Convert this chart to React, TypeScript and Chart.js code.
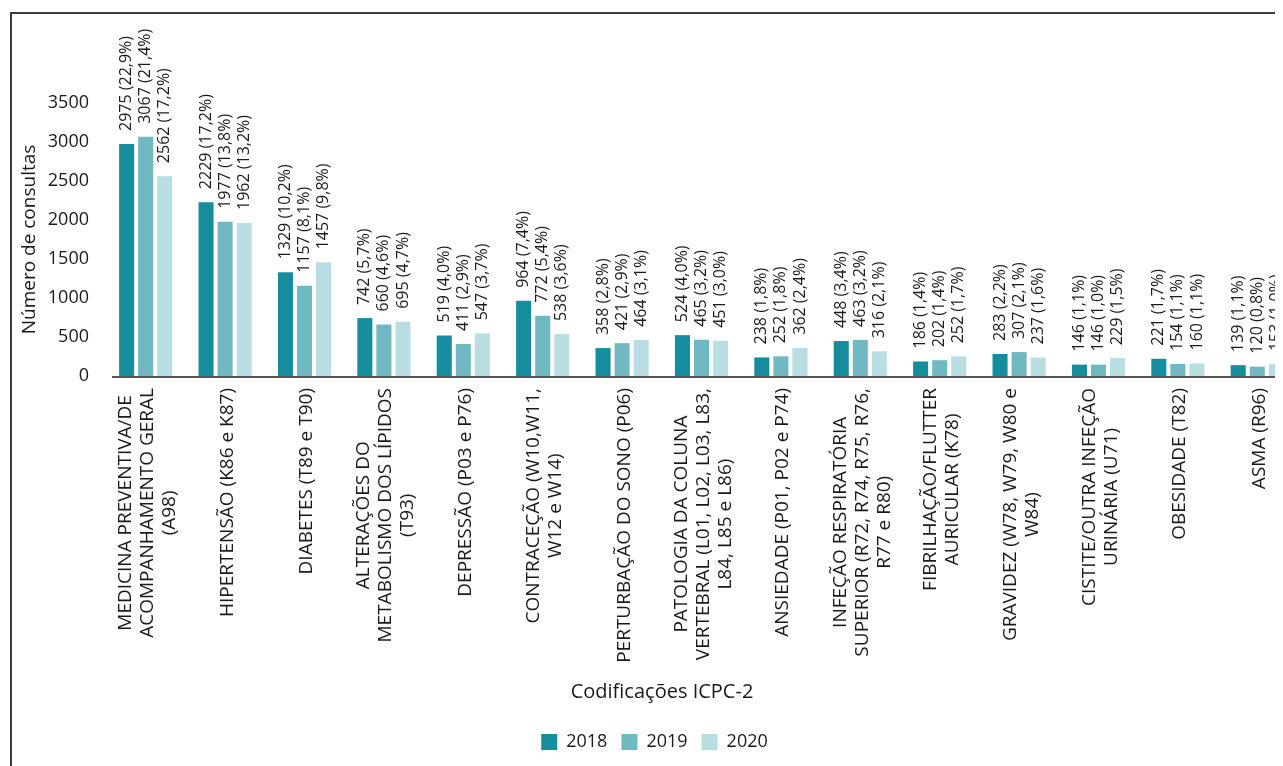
import React, { useEffect, useRef } from "react";
import { Chart, registerables } from "chart.js";

Chart.register(...registerables);

const categories: string[][] = [
  ["MEDICINA PREVENTIVA/DE", "ACOMPANHAMENTO GERAL", "(A98)"],
  ["HIPERTENSÃO (K86 e K87)"],
  ["DIABETES (T89 e T90)"],
  ["ALTERAÇÕES DO", "METABOLISMO DOS LÍPIDOS", "(T93)"],
  ["DEPRESSÃO (P03 e P76)"],
  ["CONTRACEÇÃO (W10,W11,", "W12 e W14)"],
  ["PERTURBAÇÃO DO SONO (P06)"],
  ["PATOLOGIA DA COLUNA", "VERTEBRAL (L01, L02, L03, L83,", "L84, L85 e L86)"],
  ["ANSIEDADE (P01, P02 e P74)"],
  ["INFEÇÃO RESPIRATÓRIA", "SUPERIOR (R72, R74, R75, R76,", "R77 e R80)"],
  ["FIBRILHAÇÃO/FLUTTER", "AURICULAR (K78)"],
  ["GRAVIDEZ (W78, W79, W80 e", "W84)"],
  ["CISTITE/OUTRA INFEÇÃO", "URINÁRIA (U71)"],
  ["OBESIDADE (T82)"],
  ["ASMA (R96)"],
];

const years = ["2018", "2019", "2020"];

const values2018 = [2975, 2229, 1329, 742, 519, 964, 358, 524, 238, 448, 186, 283, 146, 221, 139];
const values2019 = [3067, 1977, 1157, 660, 411, 772, 421, 465, 252, 463, 202, 307, 146, 154, 120];
const values2020 = [2562, 1962, 1457, 695, 547, 538, 464, 451, 362, 316, 252, 237, 229, 160, 153];

const pct2018 = ["22,9", "17,2", "10,2", "5,7", "4,0", "7,4", "2,8", "4,0", "1,8", "3,4", "1,4", "2,2", "1,1", "1,7", "1,1"];
const pct2019 = ["21,4", "13,8", "8,1", "4,6", "2,9", "5,4", "2,9", "3,2", "1,8", "3,2", "1,4", "2,1", "1,0", "1,1", "0,8"];
const pct2020 = ["17,2", "13,2", "9,8", "4,7", "3,7", "3,6", "3,1", "3,0", "2,4", "2,1", "1,7", "1,6", "1,5", "1,1", "1,0"];

const yTickValues = [0, 500, 1000, 1500, 2000, 2500, 3000, 3500];

const yTitle = "Número de consultas";
const xTitle = "Codificações ICPC-2";

const colors = ["#158d9d", "#70b9c3", "#b8dde3"];
const FONT = "'Open Sans', 'Noto Sans', sans-serif";
const TEXT = "#1a1a1a";

const pcts = [pct2018, pct2019, pct2020];

const decorPlugin = {
  id: "decor",
  afterDatasetsDraw(chart: any) {
    const ctx = chart.ctx as CanvasRenderingContext2D;
    const xs = chart.scales.x;
    const ys = chart.scales.y;
    const area = chart.chartArea;
    const y0 = ys.getPixelForValue(0);
    ctx.save();

    // x axis line
    ctx.strokeStyle = "#555555";
    ctx.lineWidth = 2;
    ctx.beginPath();
    ctx.moveTo(area.left + 6, y0 + 1);
    ctx.lineTo(chart.width, y0 + 1);
    ctx.stroke();

    // data labels
    ctx.fillStyle = TEXT;
    ctx.font = `16px ${FONT}`;
    ctx.textAlign = "left";
    ctx.textBaseline = "middle";
    chart.data.datasets.forEach((ds: any, di: number) => {
      const meta = chart.getDatasetMeta(di);
      meta.data.forEach((bar: any, i: number) => {
        const label = `${ds.data[i]} (${pcts[di][i]}%)`;
        ctx.save();
        ctx.translate(bar.x, bar.y - 13);
        ctx.rotate(-Math.PI / 2);
        ctx.fillText(label, 0, 0);
        ctx.restore();
      });
    });

    // category labels
    ctx.font = `19px ${FONT}`;
    ctx.textAlign = "center";
    ctx.textBaseline = "middle";
    const lineH = 22;
    categories.forEach((lines, i) => {
      const cx = xs.getPixelForTick(i);
      const maxW = Math.max(...lines.map((l) => ctx.measureText(l).width));
      ctx.save();
      ctx.translate(cx + 2, y0 + 12 + maxW / 2);
      ctx.rotate(-Math.PI / 2);
      lines.forEach((l, li) => {
        ctx.fillText(l, 0, (li - (lines.length - 1) / 2) * lineH);
      });
      ctx.restore();
    });

    // x title
    ctx.font = `20px ${FONT}`;
    ctx.textAlign = "center";
    ctx.textBaseline = "middle";
    ctx.fillText(xTitle, chart.width / 2, 678);

    // y title
    ctx.font = `19px ${FONT}`;
    ctx.save();
    ctx.translate(18, (area.top + area.bottom) / 2);
    ctx.rotate(-Math.PI / 2);
    ctx.fillText(yTitle, 0, 0);
    ctx.restore();

    ctx.restore();
  },
};

function BarChart() {
  const ref = useRef<HTMLCanvasElement | null>(null);
  useEffect(() => {
    document.documentElement.style.overflow = "hidden";
    document.body.style.overflow = "hidden";
    const canvas = ref.current;
    if (!canvas) return;
    const chart = new Chart(canvas, {
      type: "bar",
      data: {
        labels: categories.map((c) => c.join(" ")),
        datasets: [
          { label: years[0], data: values2018, backgroundColor: colors[0], borderWidth: 0 },
          { label: years[1], data: values2019, backgroundColor: colors[1], borderWidth: 0 },
          { label: years[2], data: values2020, backgroundColor: colors[2], borderWidth: 0 },
        ],
      },
      options: {
        responsive: false,
        animation: false,
        devicePixelRatio: 1,
        layout: { padding: { top: 89, right: 15, left: 0, bottom: 5 } },
        datasets: { bar: { categoryPercentage: 0.72, barPercentage: 0.79 } } as any,
        plugins: {
          tooltip: { enabled: false },
          legend: {
            position: "bottom",
            labels: {
              boxWidth: 16,
              boxHeight: 16,
              padding: 14,
              color: TEXT,
              font: { family: FONT, size: 18 },
            },
          },
        },
        scales: {
          x: {
            grid: { display: false, drawTicks: false },
            border: { display: false },
            ticks: { display: false },
            afterFit: (s: any) => {
              s.height = 343;
            },
          },
          y: {
            min: 0,
            max: 3500,
            afterBuildTicks: (s: any) => {
              s.ticks = yTickValues.map((v) => ({ value: v }));
            },
            grid: { display: false, drawTicks: false },
            border: { display: false },
            ticks: {
              padding: 17,
              color: TEXT,
              font: { family: FONT, size: 18 },
              callback: (v: any) => String(v),
            },
            afterFit: (s: any) => {
              s.width = 94;
            },
          },
        },
      },
      plugins: [decorPlugin],
    });
    return () => chart.destroy();
  }, []);
  return <canvas ref={ref} width={1300} height={752} style={{ display: "block" }} />;
}

export default function App() {
  return (
    <div style={{ position: "relative", width: 1275, height: 758, overflow: "hidden", background: "#fff" }}>
      <div
        style={{
          position: "absolute",
          left: 2,
          top: 4,
          width: 1400,
          height: 900,
          borderLeft: "2px solid #3c3c3c",
          borderTop: "2px solid #3c3c3c",
        }}
      />
      <div style={{ position: "absolute", left: 4, top: 6 }}>
        <BarChart />
      </div>
    </div>
  );
}
